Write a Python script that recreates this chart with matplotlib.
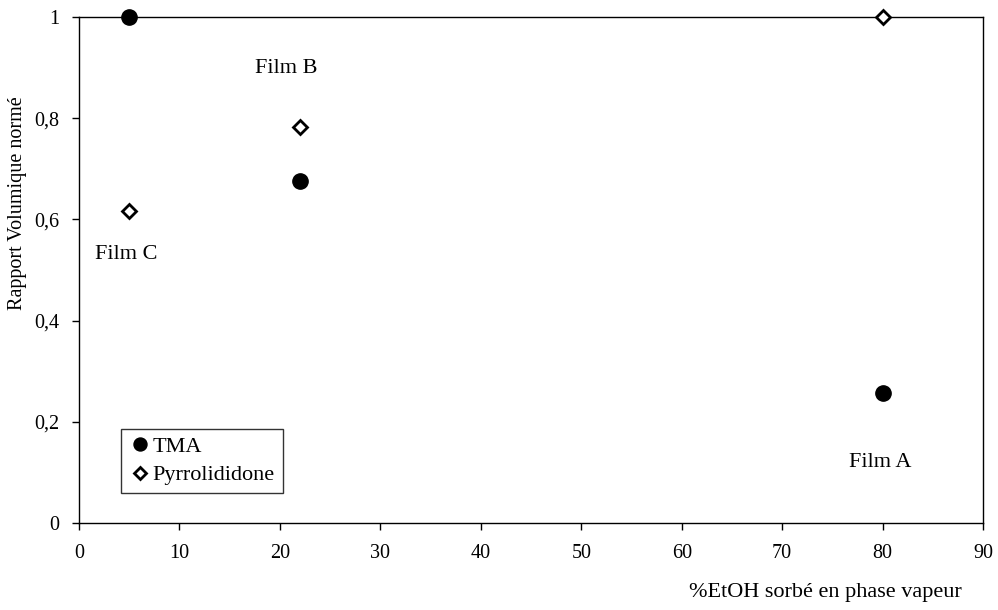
import matplotlib
matplotlib.use("Agg")
import matplotlib.pyplot as plt

plt.rcParams['font.family'] = ['Liberation Serif', 'DejaVu Serif']

x_tma = [5, 22, 80]
y_tma = [1.0, 0.675, 0.257]
x_pyr = [5, 22, 80]
y_pyr = [0.617, 0.783, 1.0]
film_labels = ["Film B", "Film C", "Film A"]
film_x = [20.6, 4.7, 79.8]
film_y = [0.899, 0.53, 0.119]
xticks = [0, 10, 20, 30, 40, 50, 60, 70, 80, 90]
yticks = [0, 0.2, 0.4, 0.6, 0.8, 1.0]
ytick_labels = ["0", "0,2", "0,4", "0,6", "0,8", "1"]

fig = plt.figure(figsize=(9.98, 6.10), dpi=100)
ax = fig.add_axes([0.0792, 0.1426, 0.9058, 0.8295])

ax.plot(x_tma, y_tma, linestyle='none', marker='o', markersize=11,
        color='black', label='TMA', clip_on=False, zorder=5)
ax.plot(x_pyr, y_pyr, linestyle='none', marker='D', markersize=7,
        markerfacecolor='white', markeredgecolor='black', markeredgewidth=2,
        label='Pyrrolididone', clip_on=False, zorder=5)

for t, xx, yy in zip(film_labels, film_x, film_y):
    ax.text(xx, yy, t, ha='center', va='center', fontsize=16)

ax.set_xlim(0, 90)
ax.set_ylim(0, 1)
ax.set_xticks(xticks)
ax.set_xticklabels([str(v) for v in xticks], fontsize=14.5)
ax.set_yticks(yticks)
ax.set_yticklabels(ytick_labels, fontsize=14.5)
ax.tick_params(direction='out', length=5, width=1)
ax.tick_params(axis='x', pad=10)
ax.tick_params(axis='y', pad=9)
for s in ax.spines.values():
    s.set_linewidth(1)

fig.text(0.018, 0.667, "Rapport Volumique normé", rotation=90,
         ha='center', va='center', fontsize=14.5)
fig.text(0.827, 0.028, "%EtOH sorbé en phase vapeur", ha='center', va='center', fontsize=16)

leg = ax.legend(loc='lower left', bbox_to_anchor=(0.046, 0.059), borderaxespad=0,
                fontsize=16, frameon=True, fancybox=False, edgecolor='black',
                handletextpad=0.1, handlelength=1.0, borderpad=0.35,
                labelspacing=0.35, markerscale=0.85)
leg.get_frame().set_linewidth(1)

fig.savefig("out.png", dpi=100)
